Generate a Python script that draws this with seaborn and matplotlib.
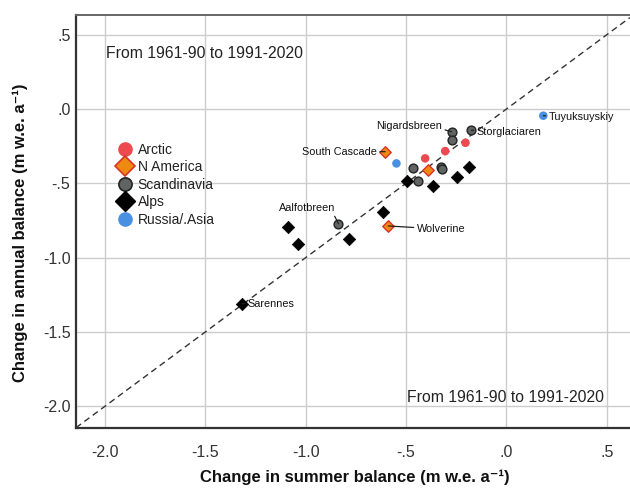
import matplotlib
matplotlib.use("Agg")
import matplotlib.pyplot as plt
from matplotlib.lines import Line2D
from matplotlib import font_manager
import seaborn as sns
import pandas as pd

# ---- data ----
regions = ["Arctic", "N America", "Scandinavia", "Alps", "Russia/.Asia"]

arctic_x = [-0.204, -0.305, -0.405]
arctic_y = [-0.227, -0.283, -0.332]

namerica_x = [-0.604, -0.390, -0.589]
namerica_y = [-0.287, -0.411, -0.787]

scand_x = [-0.273, -0.174, -0.270, -0.466, -0.325, -0.322, -0.440, -0.837]
scand_y = [-0.153, -0.143, -0.209, -0.395, -0.388, -0.406, -0.485, -0.772]

alps_x = [-0.187, -0.248, -0.493, -0.367, -0.614, -0.784, -1.086, -1.038, -1.318]
alps_y = [-0.390, -0.455, -0.485, -0.518, -0.693, -0.875, -0.794, -0.906, -1.310]

russia_x = [0.184, -0.548]
russia_y = [-0.045, -0.366]

label_names = ["Tuyuksuyskiy", "Nigardsbreen", "Storglaciaren", "South Cascade",
               "Aalfotbreen", "Wolverine", "Sarennes"]
label_px = [0.184, -0.273, -0.174, -0.604, -0.837, -0.589, -1.318]
label_py = [-0.045, -0.153, -0.143, -0.287, -0.772, -0.787, -1.310]
label_tx = [0.212, -0.322, -0.147, -0.646, -0.850, -0.446, -1.289]
label_ty = [-0.054, -0.114, -0.155, -0.289, -0.666, -0.808, -1.312]
label_ha = ["left", "right", "left", "right", "right", "left", "left"]
label_rel = [(0.5, 0.5), (1.0, 0.2), (0.5, 0.5), (0.5, 0.5), (0.95, 0.0), (0.5, 0.5), (0.5, 0.5)]

xticks = [-2.0, -1.5, -1.0, -0.5, 0.0, 0.5]
xticklabels = ["-2.0", "-1.5", "-1.0", "-.5", ".0", ".5"]
yticks = [0.5, 0.0, -0.5, -1.0, -1.5, -2.0]
yticklabels = [".5", ".0", "-.5", "-1.0", "-1.5", "-2.0"]

period_text = "From 1961-90 to 1991-2020"

# ---- fonts ----
avail = {f.name for f in font_manager.fontManager.ttflist}
narrow = "Liberation Sans Narrow" if "Liberation Sans Narrow" in avail else "Liberation Sans"
NARROW = [narrow, "DejaVu Sans"]
ARIAL = ["Liberation Sans", "DejaVu Sans"]

sns.set_theme(style="whitegrid")
plt.rcParams["font.family"] = ARIAL

frames = []
for name, xs, ys in [("Arctic", arctic_x, arctic_y), ("N America", namerica_x, namerica_y),
                     ("Scandinavia", scand_x, scand_y), ("Alps", alps_x, alps_y),
                     ("Russia/.Asia", russia_x, russia_y)]:
    frames.append(pd.DataFrame({"summer": xs, "annual": ys, "region": name}))
df = pd.concat(frames, ignore_index=True)

styles = {
    "Arctic": dict(marker="o", color="#ec4a4f", edgecolor="none", s=38, lw=0),
    "N America": dict(marker="D", color="#ee8a12", edgecolor="#d93228", s=34, lw=1.0),
    "Scandinavia": dict(marker="o", color="#606463", edgecolor="#222222", s=40, lw=1.0),
    "Alps": dict(marker="D", color="#000000", edgecolor="#000000", s=40, lw=0.5),
    "Russia/.Asia": dict(marker="o", color="#4a90e2", edgecolor="none", s=38, lw=0),
}

fig = plt.figure(figsize=(6.3, 4.9), dpi=100)
ax = fig.add_axes([76 / 630, 1 - 428 / 490, 1 - 76 / 630, (428 - 15) / 490])

for r in regions:
    st = styles[r]
    sns.scatterplot(data=df[df["region"] == r], x="summer", y="annual", ax=ax,
                    marker=st["marker"], color=st["color"], edgecolor=st["edgecolor"],
                    s=st["s"], linewidth=st["lw"], legend=False, zorder=4)

ax.axline((0, 0), slope=1, color="#333333", lw=1.0, dashes=(4.5, 3), zorder=3)

for n, px, py, tx, ty, ha, rel in zip(label_names, label_px, label_py, label_tx,
                                      label_ty, label_ha, label_rel):
    ax.annotate(n, xy=(px, py), xytext=(tx, ty), ha=ha, va="center",
                fontsize=7.8, family=NARROW, color="#111111",
                arrowprops=dict(arrowstyle="-", color="#222222", lw=0.9,
                                shrinkA=0, shrinkB=0, relpos=rel), zorder=5)

ax.text(-1.994, 0.377, period_text, ha="left", va="center", fontsize=11.3,
        family=NARROW, color="#222222")
ax.text(-0.496, -1.945, period_text, ha="left", va="center", fontsize=11.3,
        family=NARROW, color="#222222")

ax.set_xlim(-2.145, 0.616)
ax.set_ylim(-2.147, 0.633)
ax.set_xticks(xticks)
ax.set_xticklabels(xticklabels, family=NARROW, fontsize=11.5, color="#333333")
ax.set_yticks(yticks)
ax.set_yticklabels(yticklabels, family=NARROW, fontsize=11.5, color="#333333")
ax.tick_params(axis="x", length=0, pad=12)
ax.tick_params(axis="y", length=0, pad=4)

ax.grid(True, color="#cccccc", lw=1.0)
ax.set_facecolor("white")
ax.spines["left"].set_color("#333333")
ax.spines["bottom"].set_color("#333333")
ax.spines["left"].set_linewidth(1.6)
ax.spines["bottom"].set_linewidth(1.6)
ax.spines["top"].set_color("#666666")
ax.spines["top"].set_linewidth(1.4)
ax.spines["right"].set_visible(False)

ax.set_xlabel("Change in summer balance (m w.e. a\u207b\u00b9)", fontsize=12,
              family=NARROW, fontweight="bold", color="#111111")
ax.set_ylabel("Change in annual balance (m w.e. a\u207b\u00b9)", fontsize=12,
              family=NARROW, fontweight="bold", color="#111111")
ax.xaxis.set_label_coords(0.504, -0.100)
ax.yaxis.set_label_coords(-0.087, 0.472)

handles = [
    Line2D([], [], ls="none", marker="o", markersize=9.5, markerfacecolor="#ec4a4f", markeredgecolor="#ec4a4f"),
    Line2D([], [], ls="none", marker="D", markersize=10.5, markerfacecolor="#ee8a12", markeredgecolor="#d93228", markeredgewidth=1.2),
    Line2D([], [], ls="none", marker="o", markersize=9.5, markerfacecolor="#606463", markeredgecolor="#222222", markeredgewidth=1.2),
    Line2D([], [], ls="none", marker="D", markersize=10.5, markerfacecolor="#000000", markeredgecolor="#000000"),
    Line2D([], [], ls="none", marker="o", markersize=9.5, markerfacecolor="#4a90e2", markeredgecolor="#4a90e2"),
]
leg = ax.legend(handles, regions, loc="upper left", bbox_to_anchor=(0.055, 0.7145),
                frameon=False, fontsize=10, handletextpad=0.35, labelspacing=0.25,
                handlelength=1.2, borderpad=0.2)
for t in leg.get_texts():
    t.set_color("#222222")

fig.savefig("out.png", dpi=100)
